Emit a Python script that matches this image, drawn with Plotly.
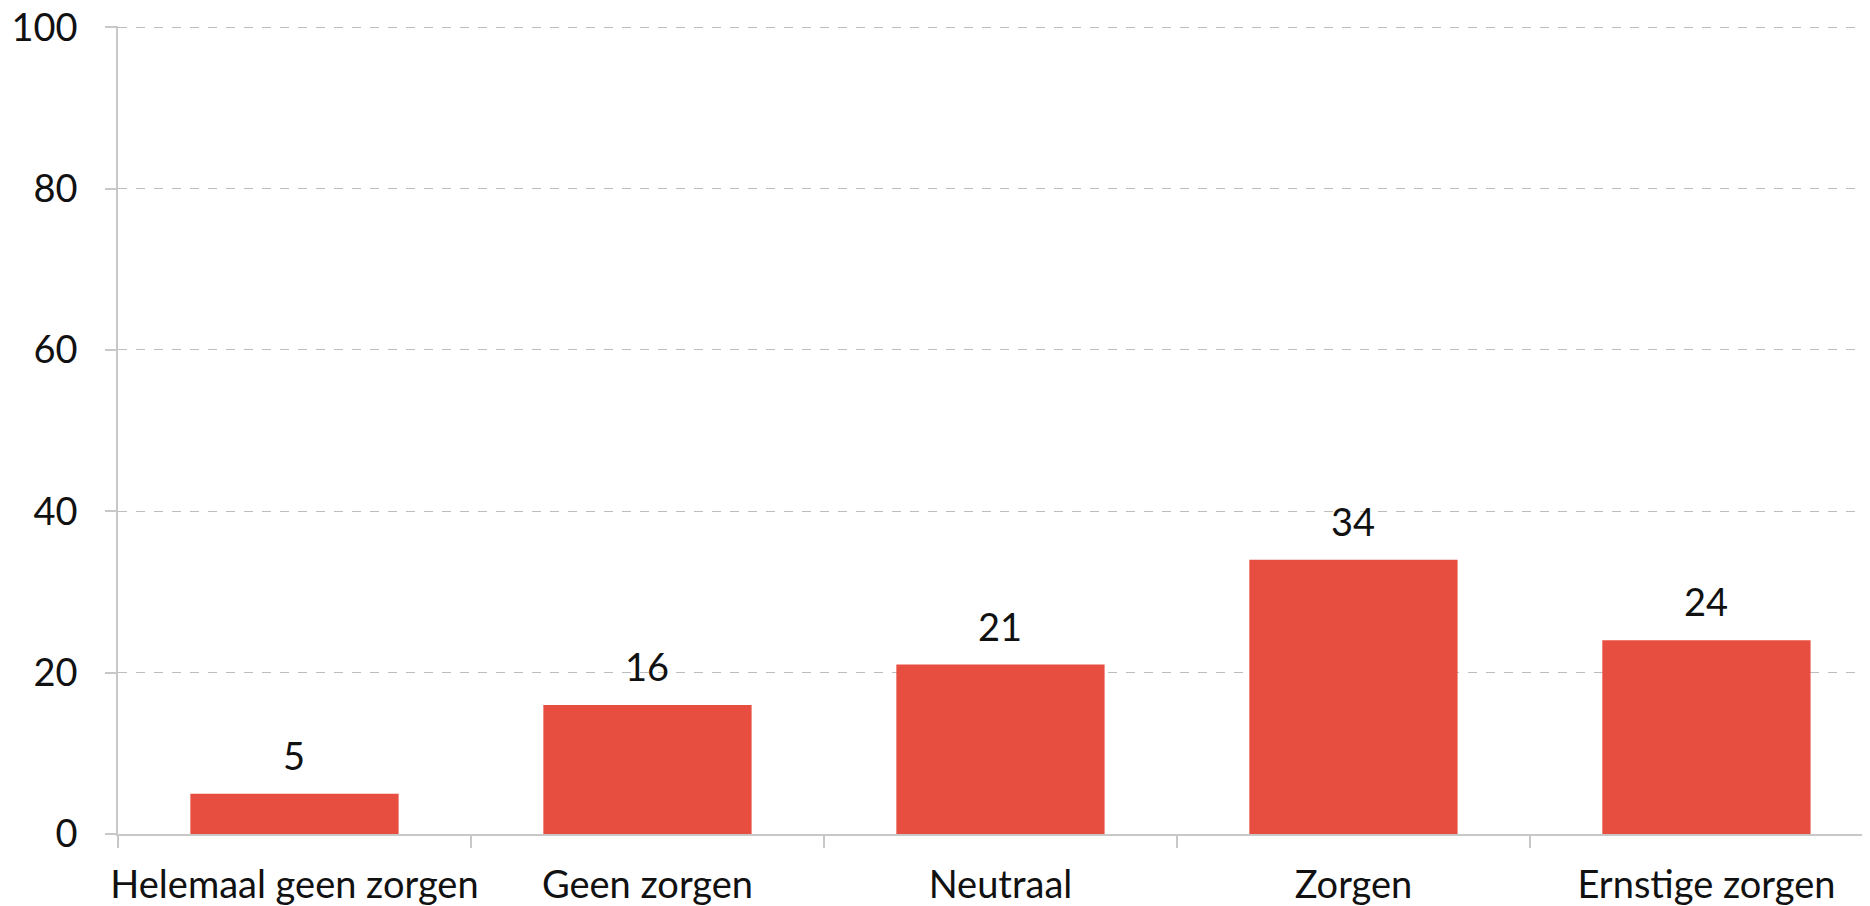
import plotly.graph_objects as go

categories = ["Helemaal geen zorgen", "Geen zorgen", "Neutraal", "Zorgen", "Ernstige zorgen"]
values = [5, 16, 21, 34, 24]
y_ticks = [0, 20, 40, 60, 80, 100]

BAR_COLOR = "#E84E40"
FONT = "Lato"
FS = 38

fig = go.Figure()
fig.add_trace(go.Bar(
    x=categories, y=values, marker_color=BAR_COLOR, width=0.59,
    marker_line_width=0, hoverinfo="skip",
))
for c, v in zip(categories, values):
    fig.add_annotation(x=c, y=v, text=str(v), showarrow=False, yanchor="bottom",
                       yshift=14, font=dict(size=FS, color="#111", family=FONT))

fig.update_layout(
    width=1870, height=906,
    margin=dict(l=110, r=0, t=18, b=80),
    paper_bgcolor="white", plot_bgcolor="white",
    font=dict(family=FONT, size=FS, color="#111"),
    showlegend=False,
    xaxis=dict(
        type="category", range=[-0.5, 4.486], tickson="boundaries",
        ticks="outside", ticklen=12, tickcolor="#c8c8c8", tickwidth=1.5,
        showline=True, linecolor="#c8c8c8", linewidth=1.5, tickangle=0,
        showgrid=False, tickfont=dict(size=FS), ticklabelstandoff=17,
        automargin=False, ticklabeloverflow="allow",
    ),
    yaxis=dict(
        range=[0, 100.15], tickvals=y_ticks, ticks="outside", ticklen=11,
        tickcolor="#c8c8c8", tickwidth=1.5,
        showline=True, linecolor="#c8c8c8", linewidth=1.5,
        showgrid=True, gridcolor="#bdbdbd", griddash="dash", gridwidth=1,
        zeroline=False, tickfont=dict(size=FS), ticklabelstandoff=20,
        automargin=False, ticklabeloverflow="allow",
    ),
)
fig.write_html("out.html")
